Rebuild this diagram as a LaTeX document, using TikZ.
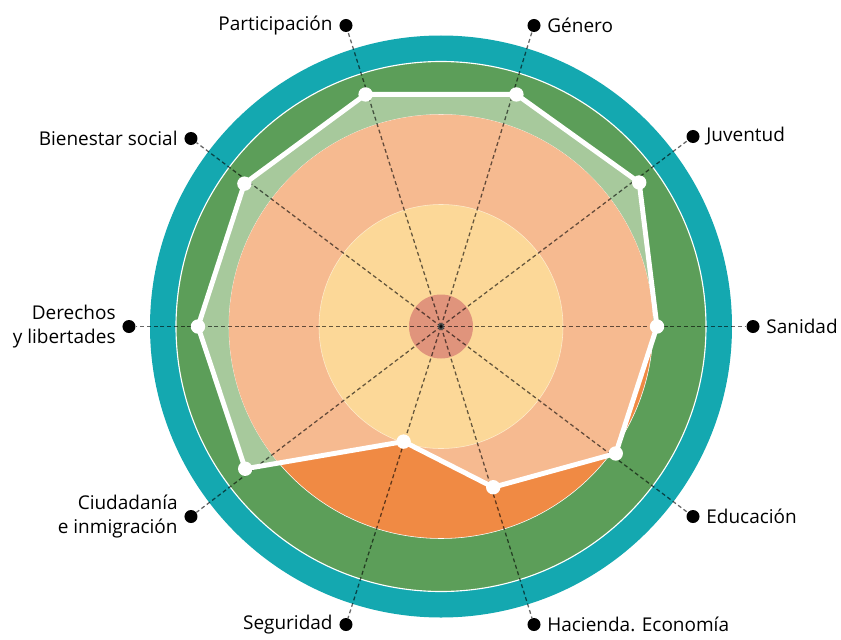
\documentclass[tikz,border=0pt]{standalone}
\usepackage{fontspec}
\setmainfont{Open Sans}
\usepackage{tikz}
\usetikzlibrary{positioning}
\definecolor{ringteal}{RGB}{20,168,176}
\definecolor{ringgreen}{RGB}{92,158,89}
\definecolor{lightgreen}{RGB}{167,201,156}
\definecolor{peach}{RGB}{246,186,144}
\definecolor{deeporange}{RGB}{240,138,68}
\definecolor{paleyellow}{RGB}{252,216,152}
\definecolor{rose}{RGB}{224,148,124}

\begin{document}
\begin{tikzpicture}[x=0.025cm, y=0.025cm,
  dot/.style={circle, fill=black, inner sep=0pt, minimum size=0.325cm},
  vertex/.style={circle, fill=white, inner sep=0pt, minimum size=0.36cm},
  spoke/.style={draw=black, draw opacity=0.6, line width=0.9pt, dash pattern=on 2.8pt off 2pt},
  lbl/.style={font=\fontsize{13.5}{17}\selectfont, text=black, inner sep=0pt}]
  \useasboundingbox (-441,-312.5) rectangle (400,326.5);
  \coordinate (c) at (0,0);
  % rings
  \fill[ringteal] (c) circle (291);
  \filldraw[fill=ringgreen, draw=white, line width=0.8pt] (c) circle (265);
  % scores
  \foreach \a/\r [count=\i] in {0/216, 36/245, 72/244, 108/244, 144/243, 180/243, 216/242, 252/121, 288/169, 324/216}
    \coordinate (p\i) at (\a:\r);
  \fill[lightgreen] (p1) -- (p2) -- (p3) -- (p4) -- (p5) -- (p6) -- (p7) -- (p8) -- (p9) -- (p10) -- cycle;
  \filldraw[fill=deeporange, draw=white, line width=0.4pt] (c) circle (212);
  \begin{scope}
    \clip (p1) -- (p2) -- (p3) -- (p4) -- (p5) -- (p6) -- (p7) -- (p8) -- (p9) -- (p10) -- cycle;
    \fill[peach] (c) circle (212);
    \filldraw[fill=paleyellow, draw=white!50!paleyellow, line width=0.4pt] (c) circle (122);
  \end{scope}
  \fill[rose] (c) circle (32);
  \fill[black!40] (c) circle (3.5);
  % axes
  \foreach \x/\y [count=\i] in {312/0, 252/190, 93/301, -95/301, -250/188, -312/0, -250/-190, -95/-298, 93/-298, 252/-190}
    \node[dot] (d\i) at (\x,\y) {};
  \foreach \i in {1,...,10}
    \draw[spoke] (c) -- (d\i);
  \draw[white, line width=3.5pt, line join=round] (p1) -- (p2) -- (p3) -- (p4) -- (p5) -- (p6) -- (p7) -- (p8) -- (p9) -- (p10) -- cycle;
  \foreach \i in {1,...,10}
    \node[vertex] at (p\i) {};
  % labels
  \node[lbl, right=4.5pt of d1] (sanidad) {Sanidad};
  \node[lbl, right=4.5pt of d2] (juventud) {Juventud};
  \node[lbl, right=4.5pt of d3] (genero) {Género};
  \node[lbl, left=4.5pt of d4] (participacion) {Participación};
  \node[lbl, left=4.5pt of d5] (bienestar) {Bienestar social};
  \node[lbl, left=4.5pt of d6, align=right] (derechos) {Derechos\\y libertades};
  \node[lbl, left=4.5pt of d7, align=right] (ciudadania) {Ciudadanía\\e inmigración};
  \node[lbl, left=4.5pt of d8] (seguridad) {Seguridad};
  \node[lbl, right=4.5pt of d9] (hacienda) {Hacienda. Economía};
  \node[lbl, right=4.5pt of d10] (educacion) {Educación};
\end{tikzpicture}
\end{document}
